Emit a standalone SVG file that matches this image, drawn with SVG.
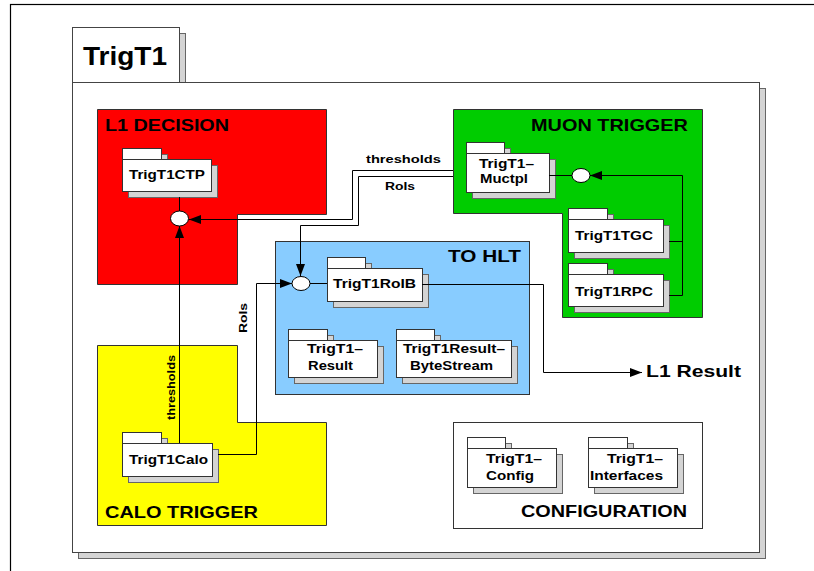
<svg xmlns="http://www.w3.org/2000/svg" width="814" height="571" viewBox="0 0 814 571">
<defs>
<style>
.shadow{fill:#d4d4d4;stroke:#666;stroke-width:1}
.pk{fill:#fff;stroke:#333;stroke-width:1}
.pt{font-family:"Liberation Sans",Arial,sans-serif;font-weight:bold;font-size:12.5px;fill:#000}
.rl{font-family:"Liberation Sans",Arial,sans-serif;font-weight:bold;font-size:16.5px;fill:#000}
.lbl{font-family:"Liberation Sans",Arial,sans-serif;font-weight:bold;font-size:11px;fill:#000}
.reg{stroke:#333;stroke-width:1}
.wire{fill:none;stroke:#000;stroke-width:1}
.iface{fill:#fff;stroke:#000;stroke-width:1}
</style>
<marker id="ah" markerUnits="userSpaceOnUse" markerWidth="13" markerHeight="9" refX="12" refY="4.5" orient="auto">
<path d="M0,0 L12,4.5 L0,9 z" fill="#000"/>
</marker>
</defs>
<rect width="814" height="571" fill="#fff"/>
<rect x="10.5" y="4.5" width="900" height="700" fill="none" stroke="#000" stroke-width="1.2"/>

<g id="TrigT1">
<rect x="78.5" y="88.5" width="687" height="470" class="shadow" fill="#e2e2e2"/>
<rect x="78.5" y="33.5" width="107" height="55" class="shadow"/>
<rect x="72.5" y="82.5" width="687" height="470" fill="#fff" stroke="#444"/>
<rect x="72.5" y="27.5" width="107" height="55" fill="#fff" stroke="#444"/>
<text x="83" y="65" font-family="Liberation Sans,Arial,sans-serif" font-weight="bold" font-size="25" textLength="84" lengthAdjust="spacingAndGlyphs">TrigT1</text>
</g>

<g id="L1_DECISION">
<polygon points="97.5,109.5 326.5,109.5 326.5,214.5 237.5,214.5 237.5,284.5 97.5,284.5" fill="#ff0000" class="reg"/>
<text x="105" y="131" class="rl" textLength="124" lengthAdjust="spacingAndGlyphs">L1 DECISION</text>
</g>

<g id="MUON_TRIGGER">
<polygon points="453.5,109.5 702.5,109.5 702.5,317.5 562.5,317.5 562.5,213.5 453.5,213.5" fill="#00cc00" class="reg"/>
<text x="531" y="131" class="rl" textLength="157" lengthAdjust="spacingAndGlyphs">MUON TRIGGER</text>
</g>

<g id="TO_HLT">
<rect x="275.5" y="241.5" width="254" height="153" fill="#88ccff" class="reg"/>
<text x="448" y="262" class="rl" textLength="73" lengthAdjust="spacingAndGlyphs">TO HLT</text>
</g>

<g id="CALO_TRIGGER">
<polygon points="97.5,345.5 237.5,345.5 237.5,422.5 326.5,422.5 326.5,525.5 97.5,525.5" fill="#ffff00" class="reg"/>
<text x="105" y="518" class="rl" textLength="153" lengthAdjust="spacingAndGlyphs">CALO TRIGGER</text>
</g>

<g id="CONFIGURATION">
<rect x="453.5" y="422.5" width="249" height="106" fill="#fff" class="reg"/>
<text x="521" y="517" class="rl" font-weight="normal" textLength="166" lengthAdjust="spacingAndGlyphs">CONFIGURATION</text>
</g>

<g id="TrigT1CTP">
<rect x="128.5" y="154.5" width="39" height="11" class="shadow"/>
<rect x="128.5" y="165.5" width="89" height="32" class="shadow"/>
<rect x="122.5" y="148.5" width="39" height="11" class="pk"/>
<rect x="122.5" y="159.5" width="89" height="32" class="pk"/>
<text x="129" y="179" class="pt" textLength="76" lengthAdjust="spacingAndGlyphs">TrigT1CTP</text>
</g>

<g id="TrigT1Calo">
<rect x="128.5" y="438.5" width="39" height="11" class="shadow"/>
<rect x="128.5" y="449.5" width="90" height="33" class="shadow"/>
<rect x="122.5" y="432.5" width="39" height="11" class="pk"/>
<rect x="122.5" y="443.5" width="90" height="33" class="pk"/>
<text x="129" y="464" class="pt" textLength="79" lengthAdjust="spacingAndGlyphs">TrigT1Calo</text>
</g>

<g id="TrigT1RoIB">
<rect x="333.5" y="263.5" width="38" height="11" class="shadow"/>
<rect x="333.5" y="274.5" width="95" height="33" class="shadow"/>
<rect x="327.5" y="257.5" width="38" height="11" class="pk"/>
<rect x="327.5" y="268.5" width="95" height="33" class="pk"/>
<text x="333" y="288" class="pt" textLength="83" lengthAdjust="spacingAndGlyphs">TrigT1RoIB</text>
</g>

<g id="TrigT1Result">
<rect x="294.5" y="335.5" width="39" height="11" class="shadow"/>
<rect x="294.5" y="346.5" width="89" height="37" class="shadow"/>
<rect x="288.5" y="329.5" width="39" height="11" class="pk"/>
<rect x="288.5" y="340.5" width="89" height="37" class="pk"/>
<text x="307" y="353" class="pt" textLength="56" lengthAdjust="spacingAndGlyphs">TrigT1–</text>
<text x="308" y="370" class="pt" textLength="45" lengthAdjust="spacingAndGlyphs">Result</text>
</g>

<g id="TrigT1ResultByteStream">
<rect x="402.5" y="335.5" width="38" height="11" class="shadow"/>
<rect x="402.5" y="346.5" width="115" height="37" class="shadow"/>
<rect x="396.5" y="329.5" width="38" height="11" class="pk"/>
<rect x="396.5" y="340.5" width="115" height="37" class="pk"/>
<text x="403" y="353" class="pt" textLength="102" lengthAdjust="spacingAndGlyphs">TrigT1Result–</text>
<text x="410" y="370" class="pt" textLength="83" lengthAdjust="spacingAndGlyphs">ByteStream</text>
</g>

<g id="TrigT1Muctpl">
<rect x="472.5" y="148.5" width="38" height="11" class="shadow"/>
<rect x="472.5" y="159.5" width="83" height="39" class="shadow"/>
<rect x="466.5" y="142.5" width="38" height="11" class="pk"/>
<rect x="466.5" y="153.5" width="83" height="39" class="pk"/>
<text x="479" y="168" class="pt" textLength="55" lengthAdjust="spacingAndGlyphs">TrigT1–</text>
<text x="480" y="183" class="pt" textLength="48" lengthAdjust="spacingAndGlyphs">Muctpl</text>
</g>

<g id="TrigT1TGC">
<rect x="574.5" y="214.5" width="39" height="11" class="shadow"/>
<rect x="574.5" y="225.5" width="95" height="33" class="shadow"/>
<rect x="568.5" y="208.5" width="39" height="11" class="pk"/>
<rect x="568.5" y="219.5" width="95" height="33" class="pk"/>
<text x="575" y="240" class="pt" textLength="78" lengthAdjust="spacingAndGlyphs">TrigT1TGC</text>
</g>

<g id="TrigT1RPC">
<rect x="574.5" y="269.5" width="39" height="11" class="shadow"/>
<rect x="574.5" y="280.5" width="95" height="32" class="shadow"/>
<rect x="568.5" y="263.5" width="39" height="11" class="pk"/>
<rect x="568.5" y="274.5" width="95" height="32" class="pk"/>
<text x="575" y="296" class="pt" textLength="78" lengthAdjust="spacingAndGlyphs">TrigT1RPC</text>
</g>

<g id="TrigT1Config">
<rect x="473.5" y="443.5" width="38" height="11" class="shadow"/>
<rect x="473.5" y="454.5" width="89" height="39" class="shadow"/>
<rect x="467.5" y="437.5" width="38" height="11" class="pk"/>
<rect x="467.5" y="448.5" width="89" height="39" class="pk"/>
<text x="486" y="463" class="pt" textLength="56" lengthAdjust="spacingAndGlyphs">TrigT1–</text>
<text x="486" y="480" class="pt" textLength="48" lengthAdjust="spacingAndGlyphs">Config</text>
</g>

<g id="TrigT1Interfaces">
<rect x="594.5" y="443.5" width="39" height="11" class="shadow"/>
<rect x="594.5" y="454.5" width="89" height="39" class="shadow"/>
<rect x="588.5" y="437.5" width="39" height="11" class="pk"/>
<rect x="588.5" y="448.5" width="89" height="39" class="pk"/>
<text x="607" y="463" class="pt" textLength="56" lengthAdjust="spacingAndGlyphs">TrigT1–</text>
<text x="590" y="480" class="pt" textLength="73" lengthAdjust="spacingAndGlyphs">Interfaces</text>
</g>

<g id="connectors">
<path class="wire" d="M179.5,197 V211"/>
<path class="wire" d="M453,170.5 H352.5 V219.5 H189" marker-end="url(#ah)"/>
<path class="wire" d="M179.5,443 V226" marker-end="url(#ah)"/>
<path class="wire" d="M453,176.5 H358.5 V225.5 H300.5 V276" marker-end="url(#ah)"/>
<path class="wire" d="M218,454.5 H256.5 V283.5 H292" marker-end="url(#ah)"/>
<path class="wire" d="M310,283.5 H327"/>
<path class="wire" d="M422,284.5 H543.5 V372.5 H642" marker-end="url(#ah)"/>
<path class="wire" d="M549,175.5 H572"/>
<path class="wire" d="M669,241.5 H682.5 M669,295.5 H682.5 V175.5 H590" marker-end="url(#ah)"/>
<ellipse cx="179.5" cy="218.5" rx="9" ry="7.5" class="iface"/>
<ellipse cx="301" cy="283.5" rx="9" ry="7" class="iface"/>
<ellipse cx="581" cy="175.5" rx="9" ry="7" class="iface"/>
<text x="366" y="163" class="lbl" textLength="75" lengthAdjust="spacingAndGlyphs">thresholds</text>
<text x="385" y="190" class="lbl" textLength="30" lengthAdjust="spacingAndGlyphs">RoIs</text>
<text transform="translate(175,420) rotate(-90)" class="lbl" textLength="65" lengthAdjust="spacingAndGlyphs">thresholds</text>
<text transform="translate(247,333) rotate(-90)" class="lbl" textLength="30" lengthAdjust="spacingAndGlyphs">RoIs</text>
<text x="646" y="377" class="rl" font-weight="normal" textLength="95" lengthAdjust="spacingAndGlyphs">L1 Result</text>
</g>
</svg>
